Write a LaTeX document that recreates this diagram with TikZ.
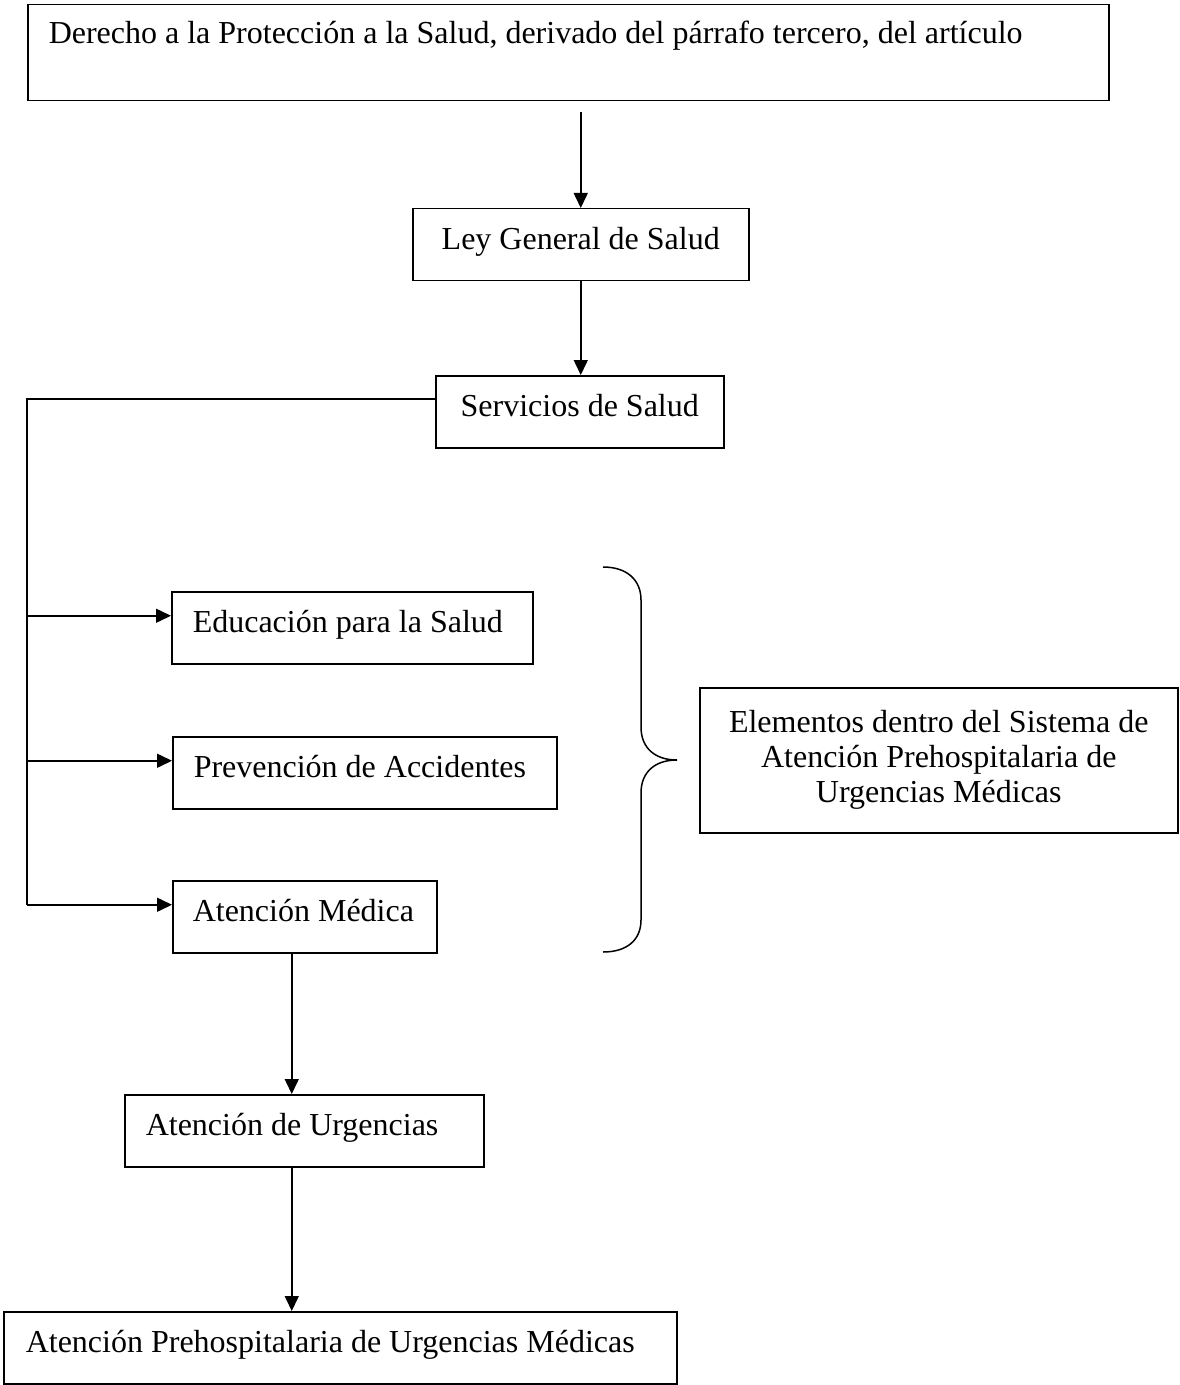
\documentclass[tikz,border=0pt]{standalone}
\usepackage{fontspec}
\setmainfont{Liberation Serif}
\usetikzlibrary{arrows.meta}

\begin{document}
\begin{tikzpicture}[x=0.5pt, y=-0.5pt, line width=0.75pt,
        caja/.style={draw, anchor=north west, font=\fontsize{16}{17.5}\selectfont, inner xsep=10.5pt, inner ysep=0pt, text height=20.5pt, text depth=15.5pt, align=flush left},
        flecha/.style={-{Triangle[length=7.5pt, width=7pt]}}]
        \useasboundingbox (0,0) rectangle (1179,1385);

        \node[caja, text width=519.5pt, text height=19.5pt, text depth=28.5pt] (derecho) at (27,4) {Derecho a la Protección a la Salud, derivado del párrafo tercero, del artículo};
        \node[caja, minimum width=168pt, align=flush center] (ley) at (412,208) {Ley General de Salud};
        \node[caja, minimum width=144pt, align=flush center] (servicios) at (435,375) {Servicios de Salud};
        \node[caja, text width=159.5pt] (educacion) at (171,591) {Educación para la Salud};
        \node[caja, text width=171pt] (prevencion) at (172,736) {Prevención de Accidentes};
        \node[caja, text width=112pt, inner xsep=10pt] (medica) at (172,880) {Atención Médica};
        \node[caja, text width=158.5pt] (urgencias) at (124,1094) {Atención de Urgencias};
        \node[caja, text width=314.5pt, inner xsep=11pt] (prehosp) at (3,1311) {Atención Prehospitalaria de Urgencias Médicas};
        \node[draw, anchor=north west, font=\fontsize{16}{17.5}\selectfont, text width=220pt, inner xsep=9.5pt, minimum height=72.5pt, align=flush center] (elementos) at (699,687) {Elementos dentro del Sistema de\\ Atención Prehospitalaria de\\ Urgencias Médicas};
        \coordinate (tronco) at (27,399);

        \draw[flecha] ([yshift=-5.5pt]derecho.south -| ley.north) -- (ley.north);
        \draw[flecha] (ley.south) -- (ley.south |- servicios.north);
        \draw (servicios.west |- tronco) -- (tronco) -- ([yshift=6pt]tronco |- medica.west);
        \foreach \n in {educacion, prevencion, medica}
            \draw[flecha] ([yshift=6pt]tronco |- \n.west) -- ([yshift=6pt]\n.west);
        \draw[flecha] ([xshift=-6.5pt]medica.south) -- ([xshift=-6.5pt]medica.south |- urgencias.north);
        \draw[flecha] ([xshift=-6.25pt]urgencias.south) -- ([xshift=-6.25pt]urgencias.south |- prehosp.north);

        \draw (603,567) .. controls (627,567) and (641,580) .. (641,600) -- (641,727)
            .. controls (641,748) and (655,760) .. (677,760)
            .. controls (655,760) and (641,772) .. (641,793) -- (641,920)
            .. controls (641,940) and (627,952) .. (603,952);
\end{tikzpicture}
\end{document}
